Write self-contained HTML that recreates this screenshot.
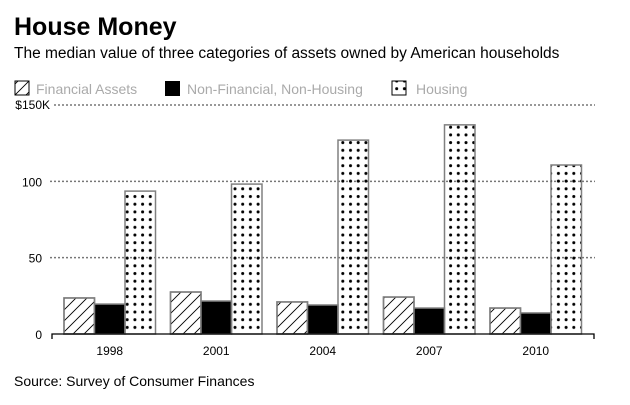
<!DOCTYPE html>
<html><head><meta charset="utf-8"><style>
body{margin:0;background:#fff;font-family:"Liberation Sans",sans-serif}
</style></head><body>
<svg width="630" height="400" xmlns="http://www.w3.org/2000/svg" font-family="Liberation Sans, sans-serif">
<defs>
<pattern id="hatch" patternUnits="userSpaceOnUse" width="11" height="11"><path d="M-1,12 L12,-1 M-3,3 L3,-3 M8,14 L14,8" stroke="#000" stroke-width="0.9"/></pattern>
<pattern id="dots" patternUnits="userSpaceOnUse" width="7.7" height="7.7" x="2" y="2"><circle cx="2" cy="2" r="1.5" fill="#000"/></pattern>
</defs>
<text x="14" y="35" font-size="25" font-weight="bold">House Money</text>
<text x="14" y="58" font-size="15.5">The median value of three categories of assets owned by American households</text>
<g font-size="14" fill="#aaa">
<rect x="15" y="81" width="14" height="14" fill="url(#hatch)" stroke="#000"/>
<text x="36" y="94">Financial Assets</text>
<rect x="165" y="81" width="15" height="15" fill="#000"/>
<text x="187" y="94">Non-Financial, Non-Housing</text>
<rect x="392" y="81" width="14" height="14" fill="url(#dots)" stroke="#000"/>
<text x="416" y="94">Housing</text>
</g>
<g id="grid"></g>
<g id="bars"></g>
<g id="axis"></g>
<text x="14" y="386" font-size="14">Source: Survey of Consumer Finances</text>
</svg>
<script>
const years=["1998","2001","2004","2007","2010"];
const financial=[23.6,27.5,21,24.2,17];
const nonFinancial=[19.6,21.6,19,17,13.8];
const housing=[93.6,98.2,127,137,110.7];
const ticks=[0,50,100,150];
const tickLabels=["0","50","100","$150K"];
const NS="http://www.w3.org/2000/svg";
const y=v=>334-v*229/150;
const gx=i=>64+i*106.5;
const bw=30.5;
function mk(t,a,p){const e=document.createElementNS(NS,t);for(const k in a)e.setAttribute(k,a[k]);p.appendChild(e);return e;}
const grid=document.getElementById('grid'),bars=document.getElementById('bars'),axis=document.getElementById('axis');
ticks.forEach((t,i)=>{
 if(t>0){const l=mk('line',{x1:i==3?54:50,x2:595,y1:y(t),y2:y(t),stroke:'#777','stroke-width':1.5,'stroke-dasharray':'2,2'},grid);
 
 }
 const tx=mk('text',{x:42,y:y(t)+5,'font-size':12,'text-anchor':'end'},axis);
 tx.textContent=tickLabels[i];
 if(i==3){tx.setAttribute('x',50);tx.setAttribute('y',y(t)+4);}
 
 
});
const series=[[financial,'url(#hatch)','financial'],[nonFinancial,'#000','nonfinancial'],[housing,'url(#dots)','housing']];
years.forEach((yr,i)=>{
 series.forEach((s,j)=>{
  const v=s[0][i];
  const r=mk('rect',{x:gx(i)+j*bw,y:y(v),width:bw,height:334-y(v),fill:s[1],stroke:'#808080','stroke-width':1.5},bars);
  if(j==0)r.setAttribute('fill','#fff');
  
  
  if(j==0){const o=mk('rect',{x:gx(i)+j*bw,y:y(v),width:bw,height:334-y(v),fill:s[1],stroke:'#808080','stroke-width':1.5},bars);
  
  }
 });
 const t=mk('text',{x:gx(i)+bw*1.5,y:355,'font-size':12,'text-anchor':'middle'},axis);
 t.textContent=yr;
 
 
});
const ax=mk('path',{d:'M52,339 V334 H594 V339',fill:'none',stroke:'#000','stroke-width':1.3},axis);


</script>
</body></html>
